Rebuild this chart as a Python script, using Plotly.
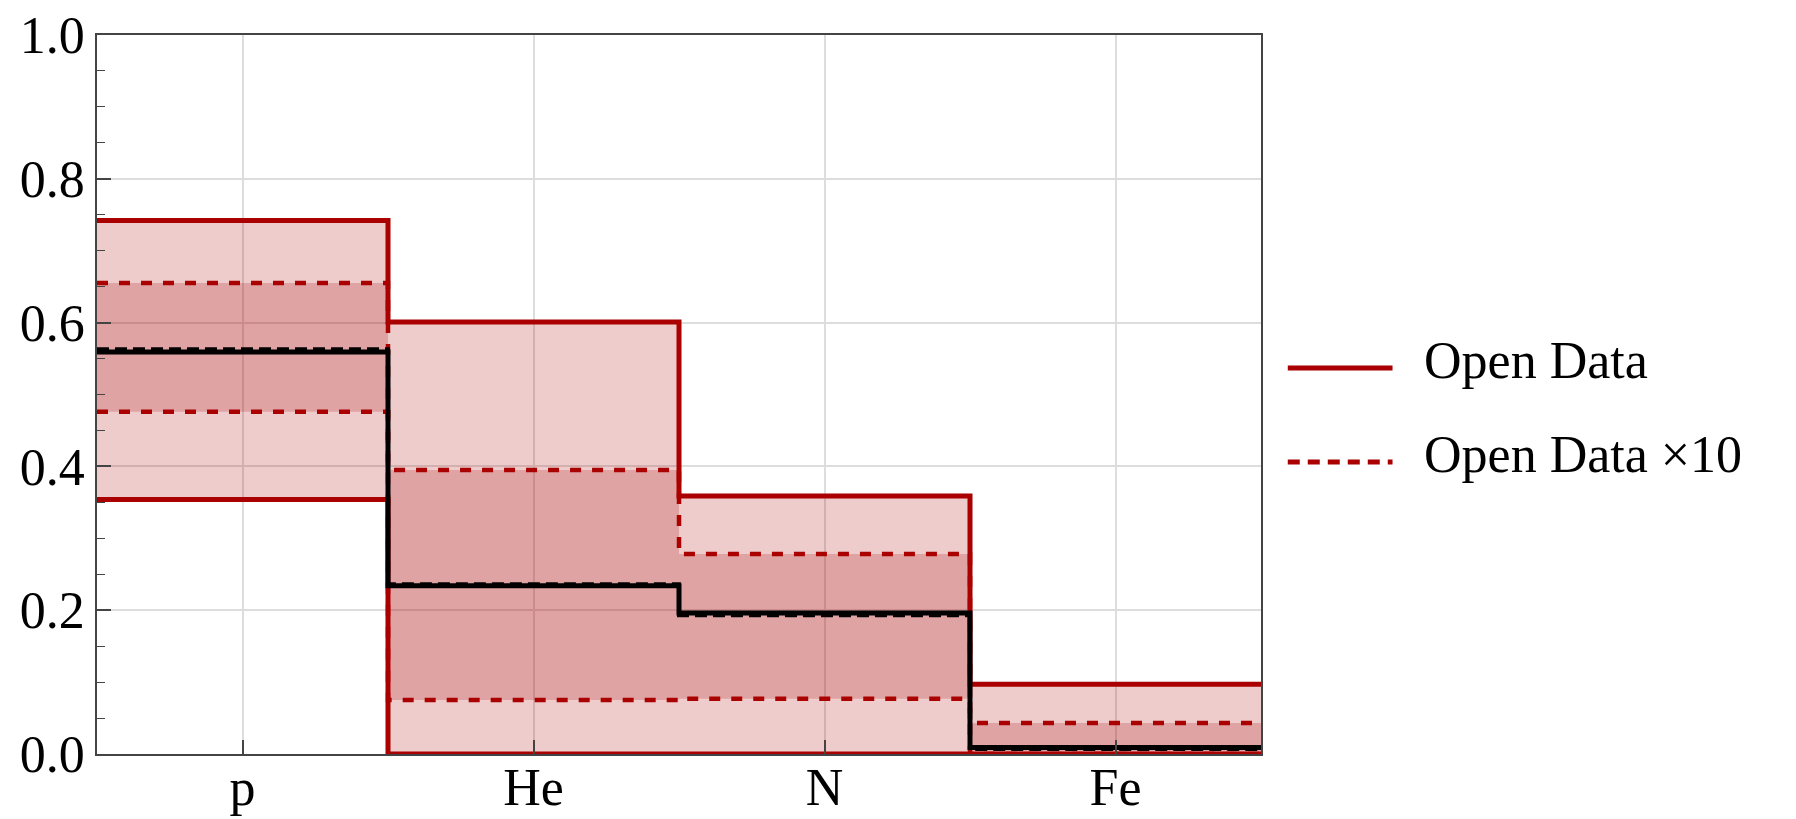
import plotly.graph_objects as go

categories = ["p", "He", "N", "Fe"]
open_upper = [0.742, 0.601, 0.359, 0.097]
open_lower = [0.354, 0.0, 0.0, 0.0]
open10_upper = [0.655, 0.395, 0.278, 0.043]
open10_lower = [0.476, 0.075, 0.077, 0.0]
truth = [0.559, 0.234, 0.196, 0.009]
recon = [0.563, 0.236, 0.193, 0.007]

RED = "#AA0000"
FILL = "rgba(170,0,0,0.2)"
FONT = "Liberation Serif"

pos = list(range(len(categories)))
edges = [p - 0.5 for p in pos] + [pos[-1] + 0.5]


def step(vals):
    return list(vals) + [vals[-1]]


fig = go.Figure()

# bands
for lo, hi in [(open_lower, open_upper), (open10_lower, open10_upper)]:
    fig.add_trace(go.Scatter(x=edges, y=step(lo), mode="lines", line=dict(width=0, shape="hv"),
                             showlegend=False, hoverinfo="skip"))
    fig.add_trace(go.Scatter(x=edges, y=step(hi), mode="lines", line=dict(width=0, shape="hv"),
                             fill="tonexty", fillcolor=FILL, showlegend=False, hoverinfo="skip"))

# red lines
for vals in (open_upper, open_lower):
    fig.add_trace(go.Scatter(x=edges, y=step(vals), mode="lines",
                             line=dict(color=RED, width=5, shape="hv"), showlegend=False))
for vals in (open10_upper, open10_lower):
    fig.add_trace(go.Scatter(x=edges, y=step(vals), mode="lines",
                             line=dict(color=RED, width=4.5, shape="hv", dash="11px,11px"), showlegend=False))

# black lines
fig.add_trace(go.Scatter(x=edges, y=step(truth), mode="lines",
                         line=dict(color="black", width=5, shape="hv"), showlegend=False))
fig.add_trace(go.Scatter(x=edges, y=step(recon), mode="lines",
                         line=dict(color="black", width=4, shape="hv", dash="12px,6px"), showlegend=False))

# manual legend
legend_items = [("Open Data", "solid", 0.537), ("Open Data ×10", "dash", 0.406)]
for label, style, yy in legend_items:
    fig.add_shape(type="line", xref="paper", yref="paper", x0=1.023, x1=1.113, y0=yy, y1=yy,
                  line=dict(color=RED, width=5, dash="solid" if style == "solid" else "12px,8px"))
    fig.add_annotation(xref="paper", yref="paper", x=1.138, y=yy + 0.01, text=label, showarrow=False,
                       xanchor="left", yanchor="middle", font=dict(family=FONT, size=52, color="black"))

fig.update_xaxes(range=[-0.5, 3.5], tickvals=pos, ticktext=categories, ticks="inside", ticklen=14,
                 tickwidth=1.5, tickcolor="#444", showgrid=True, gridcolor="#dddddd", gridwidth=1.5,
                 showline=True, linecolor="#444", linewidth=1.5, mirror=True, zeroline=False,
                 ticklabelstandoff=-13,
                 automargin=False, tickfont=dict(family=FONT, size=52, color="black"))
fig.update_yaxes(range=[0, 1], tickvals=[0, 0.2, 0.4, 0.6, 0.8, 1.0], tickformat=".1f",
                 ticks="inside", ticklen=14, tickwidth=1.5, tickcolor="#444",
                 minor=dict(dtick=0.05, ticks="inside", ticklen=8, tickcolor="#444", tickwidth=1.2, showgrid=False),
                 showgrid=True, gridcolor="#dddddd", gridwidth=1.5,
                 showline=True, linecolor="#444", linewidth=1.5, mirror=True, zeroline=False,
                 automargin=False, tickfont=dict(family=FONT, size=52, color="black"))

fig.update_layout(width=1796, height=819, margin=dict(l=97, r=535, t=35, b=65),
                  plot_bgcolor="white", paper_bgcolor="white", showlegend=False,
                  font=dict(family=FONT, size=52, color="black"))

fig.write_html("out.html")
